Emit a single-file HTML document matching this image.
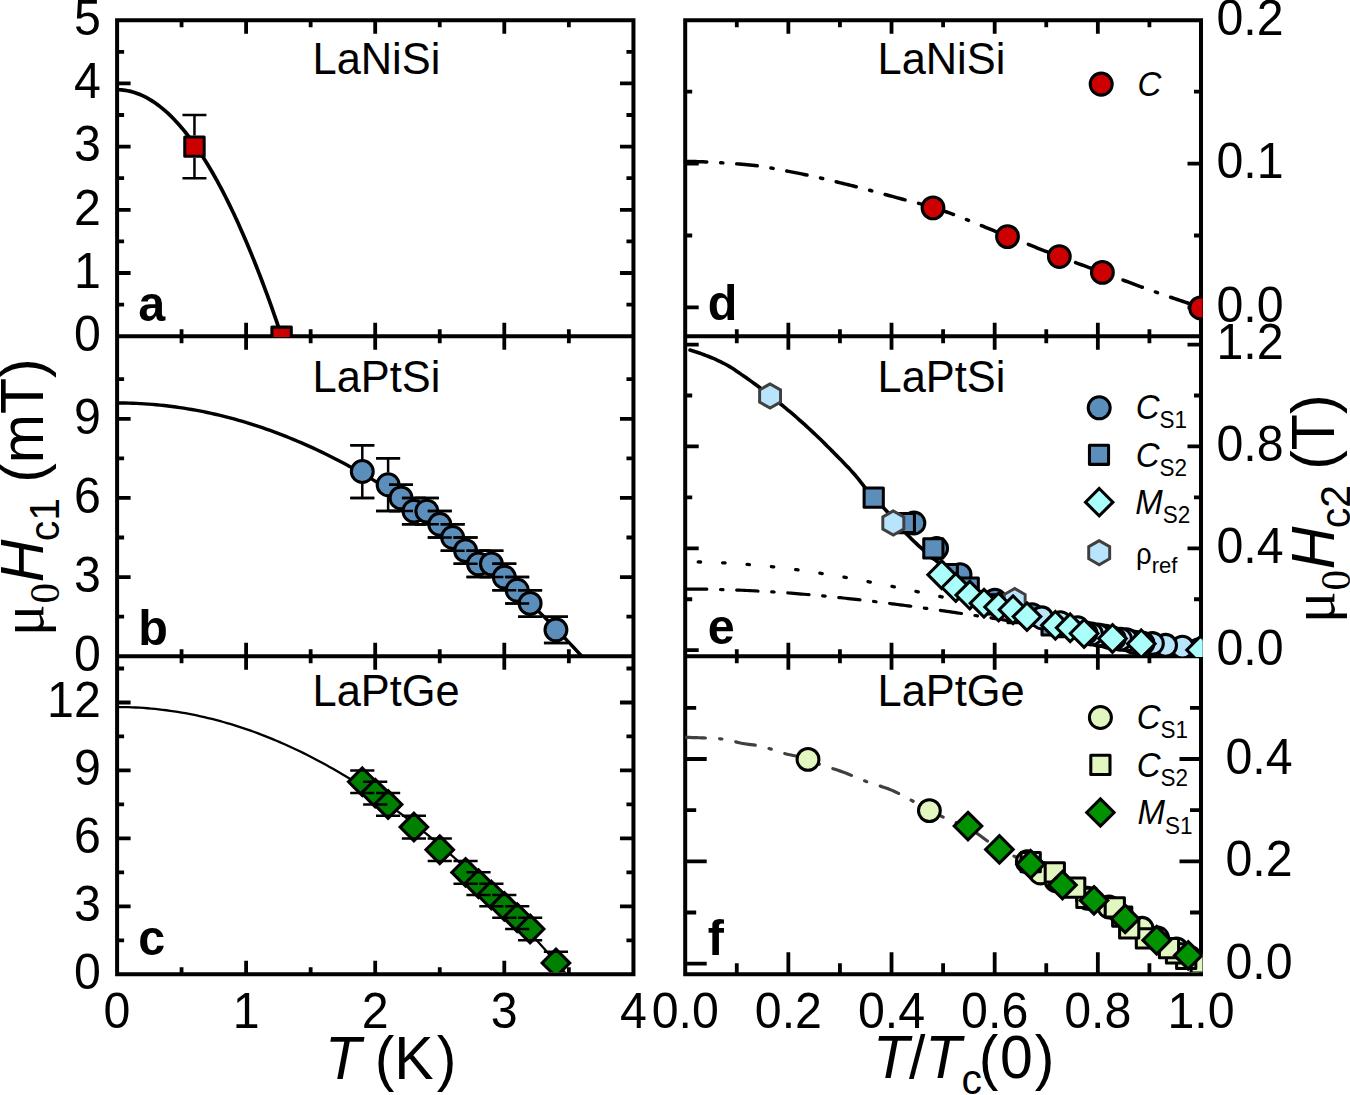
<!DOCTYPE html>
<html lang="en"><head><meta charset="utf-8"><title>Hc1 and Hc2 of LaNiSi, LaPtSi and LaPtGe</title>
<style>html,body{margin:0;padding:0;background:#fff}svg{display:block}text{fill:#000}</style></head><body>
<svg width="1350" height="1095" viewBox="0 0 1350 1095">
<rect x="0" y="0" width="1350" height="1095" fill="#fff"/>
<defs>
<clipPath id="ca"><rect x="117.1" y="20.2" width="517.85" height="316.9"/></clipPath>
<clipPath id="cb"><rect x="117.1" y="336.3" width="517.85" height="320.7"/></clipPath>
<clipPath id="cc"><rect x="117.1" y="656.2" width="517.85" height="316.1"/></clipPath>
<clipPath id="cd"><rect x="685.2" y="20.2" width="517.3" height="316.9"/></clipPath>
<clipPath id="ce"><rect x="685.2" y="336.3" width="517.3" height="320.7"/></clipPath>
<clipPath id="cf"><rect x="685.2" y="656.2" width="517.3" height="316.1"/></clipPath>
</defs>
<path d="M117.1,20.2 H633.45 V974.2 H117.1 Z M117.1,336.3 H633.45 M117.1,656.2 H633.45" fill="none" stroke="#000" stroke-width="4" stroke-linejoin="miter"/>
<path d="M685.2,20.2 H1201 V974.2 H685.2 Z M685.2,336.3 H1201 M685.2,656.2 H1201" fill="none" stroke="#000" stroke-width="4" stroke-linejoin="miter"/>
<path d="M246.1,20.2 V33.7 M375.2,20.2 V33.7 M504.3,20.2 V33.7 M181.55,20.2 V27.2 M310.65,20.2 V27.2 M439.75,20.2 V27.2 M568.85,20.2 V27.2 M246.1,322.8 V349.8 M375.2,322.8 V349.8 M504.3,322.8 V349.8 M181.55,329.3 V343.3 M310.65,329.3 V343.3 M439.75,329.3 V343.3 M568.85,329.3 V343.3 M246.1,642.7 V669.7 M375.2,642.7 V669.7 M504.3,642.7 V669.7 M181.55,649.2 V663.2 M310.65,649.2 V663.2 M439.75,649.2 V663.2 M568.85,649.2 V663.2 M246.1,960.7 V974.2 M375.2,960.7 V974.2 M504.3,960.7 V974.2 M181.55,967.2 V974.2 M310.65,967.2 V974.2 M439.75,967.2 V974.2 M568.85,967.2 V974.2 M788.36,20.2 V33.7 M891.52,20.2 V33.7 M994.68,20.2 V33.7 M1097.84,20.2 V33.7 M736.78,20.2 V27.2 M839.94,20.2 V27.2 M943.1,20.2 V27.2 M1046.26,20.2 V27.2 M1149.42,20.2 V27.2 M788.36,322.8 V349.8 M891.52,322.8 V349.8 M994.68,322.8 V349.8 M1097.84,322.8 V349.8 M736.78,329.3 V343.3 M839.94,329.3 V343.3 M943.1,329.3 V343.3 M1046.26,329.3 V343.3 M1149.42,329.3 V343.3 M788.36,642.7 V669.7 M891.52,642.7 V669.7 M994.68,642.7 V669.7 M1097.84,642.7 V669.7 M736.78,649.2 V663.2 M839.94,649.2 V663.2 M943.1,649.2 V663.2 M1046.26,649.2 V663.2 M1149.42,649.2 V663.2 M788.36,952.2 V974.2 M891.52,952.2 V974.2 M994.68,952.2 V974.2 M1097.84,952.2 V974.2 M736.78,963.2 V974.2 M839.94,963.2 V974.2 M943.1,963.2 V974.2 M1046.26,963.2 V974.2 M1149.42,963.2 V974.2 M117.1,273 H130.6 M117.1,209.8 H130.6 M117.1,146.6 H130.6 M117.1,83.4 H130.6 M117.1,304.6 H124.1 M117.1,241.4 H124.1 M117.1,178.2 H124.1 M117.1,115 H124.1 M117.1,51.8 H124.1 M619.95,273 H633.45 M619.95,209.8 H633.45 M619.95,146.6 H633.45 M619.95,83.4 H633.45 M626.45,304.6 H633.45 M626.45,241.4 H633.45 M626.45,178.2 H633.45 M626.45,115 H633.45 M626.45,51.8 H633.45 M117.1,577.06 H130.6 M117.1,497.92 H130.6 M117.1,418.78 H130.6 M117.1,616.63 H124.1 M117.1,537.49 H124.1 M117.1,458.35 H124.1 M117.1,379.21 H124.1 M619.95,577.06 H633.45 M619.95,497.92 H633.45 M619.95,418.78 H633.45 M626.45,616.63 H633.45 M626.45,537.49 H633.45 M626.45,458.35 H633.45 M626.45,379.21 H633.45 M117.1,906.35 H130.6 M117.1,838.4 H130.6 M117.1,770.45 H130.6 M117.1,702.5 H130.6 M117.1,940.32 H124.1 M117.1,872.38 H124.1 M117.1,804.42 H124.1 M117.1,736.47 H124.1 M117.1,668.52 H124.1 M619.95,906.35 H633.45 M619.95,838.4 H633.45 M619.95,770.45 H633.45 M619.95,702.5 H633.45 M626.45,940.32 H633.45 M626.45,872.38 H633.45 M626.45,804.42 H633.45 M626.45,736.47 H633.45 M626.45,668.52 H633.45 M685.2,307.4 H698.7 M685.2,163.6 H698.7 M685.2,235.5 H692.2 M685.2,91.7 H692.2 M1187.5,307.4 H1201 M1187.5,163.6 H1201 M1194,235.5 H1201 M1194,91.7 H1201 M685.2,650.2 H698.7 M685.2,548.32 H698.7 M685.2,446.44 H698.7 M685.2,344.56 H698.7 M685.2,599.26 H692.2 M685.2,497.38 H692.2 M685.2,395.5 H692.2 M1187.5,650.2 H1201 M1187.5,548.32 H1201 M1187.5,446.44 H1201 M1187.5,344.56 H1201 M1194,599.26 H1201 M1194,497.38 H1201 M1194,395.5 H1201 M685.2,963.7 H706.7 M685.2,861.34 H706.7 M685.2,758.98 H706.7 M685.2,912.52 H696.2 M685.2,810.16 H696.2 M685.2,707.8 H696.2 M1179.5,963.7 H1201 M1179.5,861.34 H1201 M1179.5,758.98 H1201 M1190,912.52 H1201 M1190,810.16 H1201 M1190,707.8 H1201" fill="none" stroke="#000" stroke-width="3.8"/>
<g clip-path="url(#ca)">
<path d="M117,89.72 L119.08,89.76 L121.17,89.88 L123.25,90.08 L125.33,90.35 L127.42,90.71 L129.5,91.14 L131.59,91.66 L133.67,92.25 L135.75,92.92 L137.84,93.67 L139.92,94.5 L142,95.41 L144.09,96.39 L146.17,97.46 L148.25,98.61 L150.34,99.83 L152.42,101.13 L154.5,102.52 L156.59,103.98 L158.67,105.52 L160.76,107.14 L162.84,108.83 L164.92,110.61 L167.01,112.47 L169.09,114.4 L171.17,116.42 L173.26,118.51 L175.34,120.68 L177.42,122.93 L179.51,125.26 L181.59,127.67 L183.67,130.16 L185.76,132.73 L187.84,135.37 L189.93,138.1 L192.01,140.9 L194.09,143.79 L196.18,146.75 L198.26,149.79 L200.34,152.91 L202.43,156.11 L204.51,159.39 L206.59,162.74 L208.68,166.18 L210.76,169.69 L212.84,173.29 L214.93,176.96 L217.01,180.71 L219.1,184.54 L221.18,188.45 L223.26,192.44 L225.35,196.51 L227.43,200.66 L229.51,204.88 L231.6,209.19 L233.68,213.57 L235.76,218.03 L237.85,222.58 L239.93,227.2 L242.01,231.9 L244.1,236.68 L246.18,241.53 L248.27,246.47 L250.35,251.49 L252.43,256.58 L254.52,261.75 L256.6,267.01 L258.68,272.34 L260.77,277.75 L262.85,283.24 L264.93,288.81 L267.02,294.46 L269.1,300.18 L271.18,305.99 L273.27,311.87 L275.35,317.84 L277.44,323.88 L279.52,330 L281.6,336.2" fill="none" stroke="#000" stroke-width="3.7" stroke-linecap="butt" stroke-linejoin="round"/>
<path d="M194.46,115 V135.4 M194.46,157.8 V178.2 M182.46,115 H206.46 M182.46,178.2 H206.46" fill="none" stroke="#000" stroke-width="2.5"/>
<rect x="184.76" y="136.9" width="19.4" height="19.4" fill="#cc0000" stroke="#000" stroke-width="3.05" stroke-linejoin="round"/>
<rect x="271.9" y="327.1" width="19.4" height="19.4" fill="#cc0000" stroke="#000" stroke-width="3.05" stroke-linejoin="round"/>
</g>
<g clip-path="url(#cb)">
<path d="M117,402.95 L120.93,402.97 L124.85,403.02 L128.78,403.11 L132.71,403.24 L136.64,403.4 L140.56,403.6 L144.49,403.84 L148.42,404.11 L152.35,404.42 L156.27,404.76 L160.2,405.14 L164.13,405.56 L168.05,406.01 L171.98,406.5 L175.91,407.02 L179.84,407.58 L183.76,408.18 L187.69,408.81 L191.62,409.48 L195.54,410.19 L199.47,410.93 L203.4,411.7 L207.33,412.52 L211.25,413.37 L215.18,414.25 L219.11,415.18 L223.04,416.13 L226.96,417.13 L230.89,418.16 L234.82,419.23 L238.74,420.33 L242.67,421.47 L246.6,422.64 L250.53,423.86 L254.45,425.1 L258.38,426.39 L262.31,427.71 L266.24,429.06 L270.16,430.46 L274.09,431.88 L278.02,433.35 L281.94,434.85 L285.87,436.39 L289.8,437.96 L293.73,439.57 L297.65,441.22 L301.58,442.9 L305.51,444.61 L309.43,446.37 L313.36,448.16 L317.29,449.99 L321.22,451.85 L325.14,453.75 L329.07,455.68 L333,457.65 L336.93,459.66 L340.85,461.7 L344.78,463.78 L348.71,465.9 L352.63,468.05 L356.56,470.24 L360.49,472.46 L364.42,474.72 L368.34,477.02 L372.27,479.35 L376.2,481.72 L380.13,484.13 L384.05,486.57 L387.98,489.04 L391.91,491.56 L395.83,494.11 L399.76,496.69 L403.69,499.31 L407.62,501.97 L411.54,504.67 L415.47,507.4 L419.4,510.16 L423.33,512.97 L427.25,515.81 L431.18,518.68 L435.11,521.59 L439.03,524.54 L442.96,527.52 L446.89,530.54 L450.82,533.6 L454.74,536.69 L458.67,539.82 L462.6,542.98 L466.52,546.19 L470.45,549.42 L474.38,552.7 L478.31,556 L482.23,559.35 L486.16,562.73 L490.09,566.15 L494.02,569.6 L497.94,573.09 L501.87,576.62 L505.8,580.18 L509.72,583.78 L513.65,587.41 L517.58,591.08 L521.51,594.79 L525.43,598.53 L529.36,602.31 L533.29,606.13 L537.22,609.98 L541.14,613.87 L545.07,617.79 L549,621.75 L552.92,625.75 L556.85,629.78 L560.78,633.85 L564.71,637.96 L568.63,642.1 L572.56,646.27 L576.49,650.49 L580.41,654.74 L584.34,659.02" fill="none" stroke="#000" stroke-width="3.4" stroke-linecap="butt" stroke-linejoin="round"/>
<path d="M362.29,445.16 V459.24 M362.29,483.84 V497.92 M350.29,445.16 H374.29 M350.29,497.92 H374.29" fill="none" stroke="#000" stroke-width="2.5"/>
<circle cx="362.29" cy="471.54" r="10.95" fill="#5b8ebb" stroke="#000" stroke-width="3.05"/>
<path d="M388.11,458.35 V472.43 M388.11,497.03 V511.11 M376.11,458.35 H400.11 M376.11,511.11 H400.11" fill="none" stroke="#000" stroke-width="2.5"/>
<circle cx="388.11" cy="484.73" r="10.95" fill="#5b8ebb" stroke="#000" stroke-width="3.05"/>
<path d="M401.02,484.73 V485.62 M401.02,510.22 V511.11 M389.02,484.73 H413.02 M389.02,511.11 H413.02" fill="none" stroke="#000" stroke-width="2.5"/>
<circle cx="401.02" cy="497.92" r="10.95" fill="#5b8ebb" stroke="#000" stroke-width="3.05"/>
<path d="M413.93,497.92 V498.81 M413.93,523.41 V524.3 M401.93,497.92 H425.93 M401.93,524.3 H425.93" fill="none" stroke="#000" stroke-width="2.5"/>
<circle cx="413.93" cy="511.11" r="10.95" fill="#5b8ebb" stroke="#000" stroke-width="3.05"/>
<path d="M426.84,497.92 V498.81 M426.84,523.41 V524.3 M414.84,497.92 H438.84 M414.84,524.3 H438.84" fill="none" stroke="#000" stroke-width="2.5"/>
<circle cx="426.84" cy="511.11" r="10.95" fill="#5b8ebb" stroke="#000" stroke-width="3.05"/>
<path d="M439.75,511.11 V512 M439.75,536.6 V537.49 M427.75,511.11 H451.75 M427.75,537.49 H451.75" fill="none" stroke="#000" stroke-width="2.5"/>
<circle cx="439.75" cy="524.3" r="10.95" fill="#5b8ebb" stroke="#000" stroke-width="3.05"/>
<path d="M452.66,524.3 V525.19 M452.66,549.79 V550.68 M440.66,524.3 H464.66 M440.66,550.68 H464.66" fill="none" stroke="#000" stroke-width="2.5"/>
<circle cx="452.66" cy="537.49" r="10.95" fill="#5b8ebb" stroke="#000" stroke-width="3.05"/>
<path d="M465.57,537.49 V538.38 M465.57,562.98 V563.87 M453.57,537.49 H477.57 M453.57,563.87 H477.57" fill="none" stroke="#000" stroke-width="2.5"/>
<circle cx="465.57" cy="550.68" r="10.95" fill="#5b8ebb" stroke="#000" stroke-width="3.05"/>
<path d="M478.48,550.68 V551.57 M478.48,576.17 V577.06 M466.48,550.68 H490.48 M466.48,577.06 H490.48" fill="none" stroke="#000" stroke-width="2.5"/>
<circle cx="478.48" cy="563.87" r="10.95" fill="#5b8ebb" stroke="#000" stroke-width="3.05"/>
<path d="M491.39,550.68 V551.57 M491.39,576.17 V577.06 M479.39,550.68 H503.39 M479.39,577.06 H503.39" fill="none" stroke="#000" stroke-width="2.5"/>
<circle cx="491.39" cy="563.87" r="10.95" fill="#5b8ebb" stroke="#000" stroke-width="3.05"/>
<path d="M504.3,563.87 V564.76 M504.3,589.36 V590.25 M492.3,563.87 H516.3 M492.3,590.25 H516.3" fill="none" stroke="#000" stroke-width="2.5"/>
<circle cx="504.3" cy="577.06" r="10.95" fill="#5b8ebb" stroke="#000" stroke-width="3.05"/>
<path d="M517.21,577.06 V577.95 M517.21,602.55 V603.44 M505.21,577.06 H529.21 M505.21,603.44 H529.21" fill="none" stroke="#000" stroke-width="2.5"/>
<circle cx="517.21" cy="590.25" r="10.95" fill="#5b8ebb" stroke="#000" stroke-width="3.05"/>
<path d="M530.12,590.25 V591.14 M530.12,615.74 V616.63 M518.12,590.25 H542.12 M518.12,616.63 H542.12" fill="none" stroke="#000" stroke-width="2.5"/>
<circle cx="530.12" cy="603.44" r="10.95" fill="#5b8ebb" stroke="#000" stroke-width="3.05"/>
<path d="M555.94,616.63 V617.52 M555.94,642.12 V643.01 M543.94,616.63 H567.94 M543.94,643.01 H567.94" fill="none" stroke="#000" stroke-width="2.5"/>
<circle cx="555.94" cy="629.82" r="10.95" fill="#5b8ebb" stroke="#000" stroke-width="3.05"/>
<path d="M350.29,445.16 H374.29 M350.29,497.92 H374.29" fill="none" stroke="#000" stroke-width="2.5"/>
<path d="M376.11,458.35 H400.11 M376.11,511.11 H400.11" fill="none" stroke="#000" stroke-width="2.5"/>
<path d="M389.02,484.73 H413.02 M389.02,511.11 H413.02" fill="none" stroke="#000" stroke-width="2.5"/>
<path d="M401.93,497.92 H425.93 M401.93,524.3 H425.93" fill="none" stroke="#000" stroke-width="2.5"/>
<path d="M414.84,497.92 H438.84 M414.84,524.3 H438.84" fill="none" stroke="#000" stroke-width="2.5"/>
<path d="M427.75,511.11 H451.75 M427.75,537.49 H451.75" fill="none" stroke="#000" stroke-width="2.5"/>
<path d="M440.66,524.3 H464.66 M440.66,550.68 H464.66" fill="none" stroke="#000" stroke-width="2.5"/>
<path d="M453.57,537.49 H477.57 M453.57,563.87 H477.57" fill="none" stroke="#000" stroke-width="2.5"/>
<path d="M466.48,550.68 H490.48 M466.48,577.06 H490.48" fill="none" stroke="#000" stroke-width="2.5"/>
<path d="M479.39,550.68 H503.39 M479.39,577.06 H503.39" fill="none" stroke="#000" stroke-width="2.5"/>
<path d="M492.3,563.87 H516.3 M492.3,590.25 H516.3" fill="none" stroke="#000" stroke-width="2.5"/>
<path d="M505.21,577.06 H529.21 M505.21,603.44 H529.21" fill="none" stroke="#000" stroke-width="2.5"/>
<path d="M518.12,590.25 H542.12 M518.12,616.63 H542.12" fill="none" stroke="#000" stroke-width="2.5"/>
<path d="M543.94,616.63 H567.94 M543.94,643.01 H567.94" fill="none" stroke="#000" stroke-width="2.5"/>
</g>
<g clip-path="url(#cc)">
<path d="M117,707.03 L120.8,707.05 L124.59,707.11 L128.39,707.2 L132.19,707.34 L135.99,707.51 L139.78,707.72 L143.58,707.97 L147.38,708.25 L151.17,708.58 L154.97,708.94 L158.77,709.34 L162.56,709.78 L166.36,710.26 L170.16,710.77 L173.96,711.33 L177.75,711.92 L181.55,712.55 L185.35,713.22 L189.14,713.92 L192.94,714.67 L196.74,715.45 L200.54,716.27 L204.33,717.13 L208.13,718.03 L211.93,718.96 L215.72,719.94 L219.52,720.95 L223.32,722 L227.11,723.09 L230.91,724.21 L234.71,725.38 L238.51,726.58 L242.3,727.82 L246.1,729.1 L249.9,730.42 L253.69,731.77 L257.49,733.17 L261.29,734.6 L265.09,736.07 L268.88,737.58 L272.68,739.12 L276.48,740.71 L280.27,742.33 L284.07,743.99 L287.87,745.69 L291.66,747.43 L295.46,749.2 L299.26,751.02 L303.06,752.87 L306.85,754.76 L310.65,756.69 L314.45,758.65 L318.24,760.66 L322.04,762.7 L325.84,764.78 L329.64,766.9 L333.43,769.06 L337.23,771.25 L341.03,773.49 L344.82,775.76 L348.62,778.07 L352.42,780.42 L356.21,782.8 L360.01,785.23 L363.81,787.69 L367.61,790.19 L371.4,792.73 L375.2,795.31 L379,797.92 L382.79,800.58 L386.59,803.27 L390.39,806 L394.19,808.77 L397.98,811.57 L401.78,814.42 L405.58,817.3 L409.37,820.22 L413.17,823.18 L416.97,826.18 L420.76,829.21 L424.56,832.29 L428.36,835.4 L432.16,838.55 L435.95,841.74 L439.75,844.96 L443.55,848.23 L447.34,851.53 L451.14,854.87 L454.94,858.25 L458.74,861.67 L462.53,865.12 L466.33,868.62 L470.13,872.15 L473.92,875.72 L477.72,879.33 L481.52,882.97 L485.31,886.66 L489.11,890.38 L492.91,894.14 L496.71,897.94 L500.5,901.78 L504.3,905.66 L508.1,909.57 L511.89,913.52 L515.69,917.51 L519.49,921.54 L523.29,925.61 L527.08,929.71 L530.88,933.85 L534.68,938.03 L538.47,942.25 L542.27,946.51 L546.07,950.81 L549.86,955.14 L553.66,959.51 L557.46,963.92 L561.26,968.37 L565.05,972.86 L568.85,977.38" fill="none" stroke="#000" stroke-width="2.3" stroke-linecap="butt" stroke-linejoin="round"/>
<path d="M362.29,767.98 L376.09,781.77 L362.29,795.57 L348.49,781.77Z" fill="#008000" stroke="#000" stroke-width="3.05" stroke-linejoin="miter"/>
<path d="M375.2,779.3 L389,793.1 L375.2,806.9 L361.4,793.1Z" fill="#008000" stroke="#000" stroke-width="3.05" stroke-linejoin="miter"/>
<path d="M388.11,790.62 L401.91,804.42 L388.11,818.22 L374.31,804.42Z" fill="#008000" stroke="#000" stroke-width="3.05" stroke-linejoin="miter"/>
<path d="M413.93,813.27 L427.73,827.07 L413.93,840.87 L400.13,827.07Z" fill="#008000" stroke="#000" stroke-width="3.05" stroke-linejoin="miter"/>
<path d="M439.75,835.92 L453.55,849.72 L439.75,863.52 L425.95,849.72Z" fill="#008000" stroke="#000" stroke-width="3.05" stroke-linejoin="miter"/>
<path d="M465.57,858.58 L479.37,872.38 L465.57,886.17 L451.77,872.38Z" fill="#008000" stroke="#000" stroke-width="3.05" stroke-linejoin="miter"/>
<path d="M478.48,869.9 L492.28,883.7 L478.48,897.5 L464.68,883.7Z" fill="#008000" stroke="#000" stroke-width="3.05" stroke-linejoin="miter"/>
<path d="M491.39,881.23 L505.19,895.02 L491.39,908.82 L477.59,895.02Z" fill="#008000" stroke="#000" stroke-width="3.05" stroke-linejoin="miter"/>
<path d="M504.3,892.55 L518.1,906.35 L504.3,920.15 L490.5,906.35Z" fill="#008000" stroke="#000" stroke-width="3.05" stroke-linejoin="miter"/>
<path d="M517.21,903.88 L531.01,917.67 L517.21,931.47 L503.41,917.67Z" fill="#008000" stroke="#000" stroke-width="3.05" stroke-linejoin="miter"/>
<path d="M530.12,915.2 L543.92,929 L530.12,942.8 L516.32,929Z" fill="#008000" stroke="#000" stroke-width="3.05" stroke-linejoin="miter"/>
<path d="M555.94,949.17 L569.74,962.97 L555.94,976.77 L542.14,962.97Z" fill="#008000" stroke="#000" stroke-width="3.05" stroke-linejoin="miter"/>
<path d="M350.19,770.45 H374.39 M350.19,793.1 H374.39" fill="none" stroke="#000" stroke-width="2.5"/>
<path d="M363.1,781.77 H387.3 M363.1,804.42 H387.3" fill="none" stroke="#000" stroke-width="2.5"/>
<path d="M376.01,793.1 H400.21 M376.01,815.75 H400.21" fill="none" stroke="#000" stroke-width="2.5"/>
<path d="M401.83,815.75 H426.03 M401.83,838.4 H426.03" fill="none" stroke="#000" stroke-width="2.5"/>
<path d="M427.65,838.4 H451.85 M427.65,861.05 H451.85" fill="none" stroke="#000" stroke-width="2.5"/>
<path d="M453.47,861.05 H477.67 M453.47,883.7 H477.67" fill="none" stroke="#000" stroke-width="2.5"/>
<path d="M466.38,872.37 H490.58 M466.38,895.02 H490.58" fill="none" stroke="#000" stroke-width="2.5"/>
<path d="M479.29,883.7 H503.49 M479.29,906.35 H503.49" fill="none" stroke="#000" stroke-width="2.5"/>
<path d="M492.2,895.02 H516.4 M492.2,917.67 H516.4" fill="none" stroke="#000" stroke-width="2.5"/>
<path d="M505.11,906.35 H529.31 M505.11,929 H529.31" fill="none" stroke="#000" stroke-width="2.5"/>
<path d="M518.02,917.67 H542.22 M518.02,940.33 H542.22" fill="none" stroke="#000" stroke-width="2.5"/>
<path d="M543.84,951.65 H568.04 M543.84,974.3 H568.04" fill="none" stroke="#000" stroke-width="2.5"/>
</g>
<g clip-path="url(#cd)">
<path d="M685,161.44 L687.59,161.45 L690.18,161.48 L692.77,161.52 L695.36,161.57 L697.95,161.64 L700.55,161.72 L703.14,161.81 L705.73,161.92 L708.32,162.04 L710.91,162.16 L713.5,162.3 L716.09,162.45 L718.68,162.6 L721.27,162.77 L723.86,162.94 L726.46,163.12 L729.05,163.3 L731.64,163.49 L734.23,163.68 L736.82,163.88 L739.41,164.08 L742,164.29 L744.59,164.49 L747.18,164.7 L749.77,164.95 L752.36,165.22 L754.96,165.53 L757.55,165.87 L760.14,166.23 L762.73,166.62 L765.32,167.03 L767.91,167.47 L770.5,167.92 L773.09,168.38 L775.68,168.86 L778.27,169.35 L780.87,169.85 L783.46,170.35 L786.05,170.86 L788.64,171.37 L791.23,171.88 L793.82,172.39 L796.41,172.89 L799,173.39 L801.59,173.9 L804.18,174.43 L806.77,174.97 L809.37,175.53 L811.96,176.09 L814.55,176.67 L817.14,177.26 L819.73,177.85 L822.32,178.46 L824.91,179.07 L827.5,179.68 L830.09,180.3 L832.68,180.93 L835.28,181.56 L837.87,182.19 L840.46,182.83 L843.05,183.46 L845.64,184.1 L848.23,184.74 L850.82,185.38 L853.41,186.04 L856,186.7 L858.59,187.37 L861.18,188.05 L863.78,188.73 L866.37,189.41 L868.96,190.11 L871.55,190.8 L874.14,191.5 L876.73,192.2 L879.32,192.91 L881.91,193.61 L884.5,194.32 L887.09,195.02 L889.69,195.73 L892.28,196.43 L894.87,197.14 L897.46,197.83 L900.05,198.53 L902.64,199.22 L905.23,199.89 L907.82,200.56 L910.41,201.23 L913,201.89 L915.59,202.56 L918.19,203.24 L920.78,203.92 L923.37,204.63 L925.96,205.35 L928.55,206.09 L931.14,206.86 L933.73,207.66 L936.32,208.48 L938.91,209.33 L941.5,210.2 L944.1,211.1 L946.69,212.01 L949.28,212.95 L951.87,213.9 L954.46,214.87 L957.05,215.85 L959.64,216.85 L962.23,217.86 L964.82,218.89 L967.41,219.92 L970.01,220.96 L972.6,222.01 L975.19,223.06 L977.78,224.12 L980.37,225.18 L982.96,226.24 L985.55,227.31 L988.14,228.37 L990.73,229.44 L993.32,230.49 L995.91,231.55 L998.51,232.59 L1001.1,233.63 L1003.69,234.67 L1006.28,235.69 L1008.87,236.7 L1011.46,237.72 L1014.05,238.74 L1016.64,239.76 L1019.23,240.79 L1021.82,241.82 L1024.42,242.85 L1027.01,243.88 L1029.6,244.92 L1032.19,245.95 L1034.78,246.98 L1037.37,248.01 L1039.96,249.04 L1042.55,250.06 L1045.14,251.08 L1047.73,252.1 L1050.32,253.11 L1052.92,254.12 L1055.51,255.12 L1058.1,256.11 L1060.69,257.09 L1063.28,258.07 L1065.87,259.03 L1068.46,260 L1071.05,260.95 L1073.64,261.9 L1076.23,262.85 L1078.83,263.8 L1081.42,264.74 L1084.01,265.68 L1086.6,266.62 L1089.19,267.56 L1091.78,268.5 L1094.37,269.45 L1096.96,270.39 L1099.55,271.34 L1102.14,272.29 L1104.73,273.25 L1107.33,274.21 L1109.92,275.18 L1112.51,276.15 L1115.1,277.12 L1117.69,278.09 L1120.28,279.07 L1122.87,280.04 L1125.46,281.01 L1128.05,281.98 L1130.64,282.95 L1133.24,283.92 L1135.83,284.88 L1138.42,285.83 L1141.01,286.78 L1143.6,287.73 L1146.19,288.67 L1148.78,289.6 L1151.37,290.52 L1153.96,291.44 L1156.55,292.35 L1159.14,293.26 L1161.74,294.17 L1164.33,295.07 L1166.92,295.97 L1169.51,296.86 L1172.1,297.75 L1174.69,298.64 L1177.28,299.53 L1179.87,300.41 L1182.46,301.28 L1185.05,302.15 L1187.65,303.02 L1190.24,303.89 L1192.83,304.75 L1195.42,305.6 L1198.01,306.45 L1200.6,307.3" fill="none" stroke="#000" stroke-width="3.5" stroke-linecap="round" stroke-linejoin="round" stroke-dasharray="20.6 13.9 2.2 13.9" stroke-dashoffset="-1.2"/>
<circle cx="933" cy="207.86" r="10.9" fill="#cc0000" stroke="#000" stroke-width="3.05"/>
<circle cx="1007.51" cy="236.6" r="10.9" fill="#cc0000" stroke="#000" stroke-width="3.05"/>
<circle cx="1059.33" cy="256.57" r="10.9" fill="#cc0000" stroke="#000" stroke-width="3.05"/>
<circle cx="1102.38" cy="272.38" r="10.9" fill="#cc0000" stroke="#000" stroke-width="3.05"/>
<circle cx="1200.6" cy="307.9" r="10.9" fill="#cc0000" stroke="#000" stroke-width="3.05"/>
</g>
<circle cx="1101.2" cy="84.1" r="11" fill="#cc0000" stroke="#000" stroke-width="3.05"/>
<g clip-path="url(#ce)">
<path d="M685,561.86 L687.59,561.87 L690.18,561.88 L692.77,561.9 L695.36,561.93 L697.95,561.97 L700.55,562.02 L703.14,562.08 L705.73,562.15 L708.32,562.22 L710.91,562.31 L713.5,562.4 L716.09,562.5 L718.68,562.61 L721.27,562.73 L723.86,562.86 L726.46,562.99 L729.05,563.14 L731.64,563.29 L734.23,563.45 L736.82,563.62 L739.41,563.8 L742,563.99 L744.59,564.19 L747.18,564.39 L749.77,564.6 L752.36,564.82 L754.96,565.05 L757.55,565.28 L760.14,565.53 L762.73,565.78 L765.32,566.04 L767.91,566.31 L770.5,566.58 L773.09,566.86 L775.68,567.15 L778.27,567.45 L780.87,567.75 L783.46,568.06 L786.05,568.38 L788.64,568.71 L791.23,569.04 L793.82,569.38 L796.41,569.73 L799,570.08 L801.59,570.44 L804.18,570.8 L806.77,571.18 L809.37,571.55 L811.96,571.94 L814.55,572.33 L817.14,572.73 L819.73,573.13 L822.32,573.54 L824.91,573.95 L827.5,574.37 L830.09,574.8 L832.68,575.23 L835.28,575.66 L837.87,576.1 L840.46,576.55 L843.05,577 L845.64,577.46 L848.23,577.92 L850.82,578.39 L853.41,578.86 L856,579.33 L858.59,579.81 L861.18,580.29 L863.78,580.78 L866.37,581.27 L868.96,581.77 L871.55,582.27 L874.14,582.77 L876.73,583.28 L879.32,583.79 L881.91,584.3 L884.5,584.82 L887.09,585.34 L889.69,585.86 L892.28,586.39 L894.87,586.92 L897.46,587.45 L900.05,587.98 L902.64,588.52 L905.23,589.06 L907.82,589.6 L910.41,590.15 L913,590.69 L915.59,591.24 L918.19,591.8 L920.78,592.35 L923.37,592.9 L925.96,593.46 L928.55,594.02 L931.14,594.58 L933.73,595.14 L936.32,595.7 L938.91,596.27 L941.5,596.83 L944.1,597.4 L946.69,597.97 L949.28,598.54 L951.87,599.11 L954.46,599.68 L957.05,600.25 L959.64,600.82 L962.23,601.4 L964.82,601.97 L967.41,602.54 L970.01,603.12 L972.6,603.69 L975.19,604.27 L977.78,604.84 L980.37,605.42 L982.96,605.99 L985.55,606.57 L988.14,607.14 L990.73,607.72 L993.32,608.29 L995.91,608.87 L998.51,609.44 L1001.1,610.02 L1003.69,610.59 L1006.28,611.16 L1008.87,611.74 L1011.46,612.31 L1014.05,612.88 L1016.64,613.45 L1019.23,614.02 L1021.82,614.59 L1024.42,615.16 L1027.01,615.72 L1029.6,616.29 L1032.19,616.85 L1034.78,617.42 L1037.37,617.98 L1039.96,618.54 L1042.55,619.1 L1045.14,619.66 L1047.73,620.22 L1050.32,620.78 L1052.92,621.34 L1055.51,621.89 L1058.1,622.44 L1060.69,622.99 L1063.28,623.54 L1065.87,624.09 L1068.46,624.64 L1071.05,625.19 L1073.64,625.73 L1076.23,626.27 L1078.83,626.81 L1081.42,627.35 L1084.01,627.89 L1086.6,628.42 L1089.19,628.96 L1091.78,629.49 L1094.37,630.02 L1096.96,630.55 L1099.55,631.07 L1102.14,631.6 L1104.73,632.12 L1107.33,632.64 L1109.92,633.16 L1112.51,633.68 L1115.1,634.19 L1117.69,634.7 L1120.28,635.22 L1122.87,635.72 L1125.46,636.23 L1128.05,636.74 L1130.64,637.24 L1133.24,637.74 L1135.83,638.24 L1138.42,638.73 L1141.01,639.23 L1143.6,639.72 L1146.19,640.21 L1148.78,640.7 L1151.37,641.19 L1153.96,641.67 L1156.55,642.15 L1159.14,642.63 L1161.74,643.11 L1164.33,643.58 L1166.92,644.05 L1169.51,644.53 L1172.1,644.99 L1174.69,645.46 L1177.28,645.92 L1179.87,646.39 L1182.46,646.85 L1185.05,647.3 L1187.65,647.76 L1190.24,648.21 L1192.83,648.66 L1195.42,649.11 L1198.01,649.56 L1200.6,650" fill="none" stroke="#000" stroke-width="3.3" stroke-linecap="round" stroke-linejoin="round" stroke-dasharray="2.4 22.05" stroke-dashoffset="-13.2"/>
<path d="M685,589.04 L687.59,589.04 L690.18,589.05 L692.77,589.06 L695.36,589.08 L697.95,589.1 L700.55,589.13 L703.14,589.16 L705.73,589.2 L708.32,589.25 L710.91,589.29 L713.5,589.35 L716.09,589.41 L718.68,589.47 L721.27,589.54 L723.86,589.61 L726.46,589.69 L729.05,589.77 L731.64,589.86 L734.23,589.96 L736.82,590.05 L739.41,590.16 L742,590.27 L744.59,590.38 L747.18,590.5 L749.77,590.62 L752.36,590.75 L754.96,590.88 L757.55,591.02 L760.14,591.16 L762.73,591.3 L765.32,591.45 L767.91,591.61 L770.5,591.77 L773.09,591.93 L775.68,592.1 L778.27,592.28 L780.87,592.46 L783.46,592.64 L786.05,592.83 L788.64,593.02 L791.23,593.21 L793.82,593.41 L796.41,593.62 L799,593.83 L801.59,594.04 L804.18,594.26 L806.77,594.48 L809.37,594.7 L811.96,594.93 L814.55,595.17 L817.14,595.4 L819.73,595.64 L822.32,595.89 L824.91,596.14 L827.5,596.39 L830.09,596.65 L832.68,596.91 L835.28,597.17 L837.87,597.44 L840.46,597.71 L843.05,597.98 L845.64,598.26 L848.23,598.54 L850.82,598.83 L853.41,599.12 L856,599.41 L858.59,599.7 L861.18,600 L863.78,600.3 L866.37,600.6 L868.96,600.91 L871.55,601.22 L874.14,601.53 L876.73,601.85 L879.32,602.17 L881.91,602.49 L884.5,602.82 L887.09,603.14 L889.69,603.47 L892.28,603.8 L894.87,604.14 L897.46,604.48 L900.05,604.82 L902.64,605.16 L905.23,605.5 L907.82,605.85 L910.41,606.2 L913,606.55 L915.59,606.91 L918.19,607.26 L920.78,607.62 L923.37,607.98 L925.96,608.34 L928.55,608.7 L931.14,609.07 L933.73,609.44 L936.32,609.81 L938.91,610.18 L941.5,610.55 L944.1,610.93 L946.69,611.3 L949.28,611.68 L951.87,612.06 L954.46,612.44 L957.05,612.82 L959.64,613.21 L962.23,613.59 L964.82,613.98 L967.41,614.36 L970.01,614.75 L972.6,615.14 L975.19,615.53 L977.78,615.93 L980.37,616.32 L982.96,616.71 L985.55,617.11 L988.14,617.5 L990.73,617.9 L993.32,618.3 L995.91,618.7 L998.51,619.1 L1001.1,619.5 L1003.69,619.9 L1006.28,620.3 L1008.87,620.7 L1011.46,621.1 L1014.05,621.5 L1016.64,621.91 L1019.23,622.31 L1021.82,622.72 L1024.42,623.12 L1027.01,623.53 L1029.6,623.93 L1032.19,624.34 L1034.78,624.74 L1037.37,625.15 L1039.96,625.56 L1042.55,625.96 L1045.14,626.37 L1047.73,626.78 L1050.32,627.18 L1052.92,627.59 L1055.51,628 L1058.1,628.4 L1060.69,628.81 L1063.28,629.21 L1065.87,629.62 L1068.46,630.03 L1071.05,630.43 L1073.64,630.84 L1076.23,631.24 L1078.83,631.65 L1081.42,632.05 L1084.01,632.46 L1086.6,632.86 L1089.19,633.27 L1091.78,633.67 L1094.37,634.07 L1096.96,634.48 L1099.55,634.88 L1102.14,635.28 L1104.73,635.68 L1107.33,636.08 L1109.92,636.48 L1112.51,636.88 L1115.1,637.28 L1117.69,637.68 L1120.28,638.08 L1122.87,638.47 L1125.46,638.87 L1128.05,639.27 L1130.64,639.66 L1133.24,640.06 L1135.83,640.45 L1138.42,640.84 L1141.01,641.23 L1143.6,641.63 L1146.19,642.02 L1148.78,642.41 L1151.37,642.79 L1153.96,643.18 L1156.55,643.57 L1159.14,643.96 L1161.74,644.34 L1164.33,644.72 L1166.92,645.11 L1169.51,645.49 L1172.1,645.87 L1174.69,646.25 L1177.28,646.63 L1179.87,647.01 L1182.46,647.39 L1185.05,647.76 L1187.65,648.14 L1190.24,648.51 L1192.83,648.89 L1195.42,649.26 L1198.01,649.63 L1200.6,650" fill="none" stroke="#000" stroke-width="3.2" stroke-linecap="round" stroke-linejoin="round" stroke-dasharray="21.3 13.7 2.5 13.7" stroke-dashoffset="-0.5"/>
<path d="M690,350.03 L692.33,350.73 L694.66,351.46 L697,352.23 L699.33,353.03 L701.66,353.86 L703.99,354.72 L706.32,355.61 L708.65,356.53 L710.98,357.48 L713.32,358.45 L715.65,359.47 L717.98,360.53 L720.31,361.63 L722.64,362.78 L724.97,363.98 L727.31,365.26 L729.64,366.63 L731.97,368.08 L734.3,369.59 L736.63,371.15 L738.96,372.75 L741.29,374.37 L743.63,375.99 L745.96,377.6 L748.29,379.24 L750.62,380.9 L752.95,382.59 L755.28,384.31 L757.61,386.04 L759.95,387.8 L762.28,389.57 L764.61,391.36 L766.94,393.16 L769.27,394.97 L771.6,396.79 L773.94,398.63 L776.27,400.49 L778.6,402.36 L780.93,404.25 L783.26,406.16 L785.59,408.08 L787.92,410.03 L790.26,411.99 L792.59,413.97 L794.92,415.97 L797.25,417.99 L799.58,420.04 L801.91,422.11 L804.24,424.21 L806.58,426.33 L808.91,428.47 L811.24,430.63 L813.57,432.82 L815.9,435.02 L818.23,437.25 L820.57,439.51 L822.9,441.8 L825.23,444.1 L827.56,446.43 L829.89,448.77 L832.22,451.13 L834.55,453.49 L836.89,455.87 L839.22,458.23 L841.55,460.6 L843.88,462.99 L846.21,465.41 L848.54,467.86 L850.87,470.36 L853.21,472.92 L855.54,475.56 L857.87,478.35 L860.2,481.27 L862.53,484.29 L864.86,487.33 L867.2,490.34 L869.53,493.28 L871.86,496.08 L874.19,498.68 L876.52,501.08 L878.85,503.33 L881.18,505.55 L883.52,507.81 L885.85,510.21 L888.18,512.75 L890.51,515.4 L892.84,518.11 L895.17,520.86 L897.5,523.62 L899.84,526.37 L902.17,529.06 L904.5,531.68 L906.83,534.19 L909.16,536.58 L911.49,538.91 L913.83,541.18 L916.16,543.39 L918.49,545.56 L920.82,547.69 L923.15,549.78 L925.48,551.82 L927.81,553.83 L930.15,555.8 L932.48,557.75 L934.81,559.67 L937.14,561.58 L939.47,563.48 L941.8,565.37 L944.13,567.27 L946.47,569.19 L948.8,571.12 L951.13,573.05 L953.46,574.97 L955.79,576.87 L958.12,578.74 L960.46,580.57 L962.79,582.35 L965.12,584.07 L967.45,585.73 L969.78,587.31 L972.11,588.87 L974.44,590.4 L976.78,591.9 L979.11,593.37 L981.44,594.8 L983.77,596.19 L986.1,597.52 L988.43,598.79 L990.76,600.01 L993.1,601.15 L995.43,602.22 L997.76,603.23 L1000.09,604.19 L1002.42,605.11 L1004.75,605.99 L1007.09,606.83 L1009.42,607.65 L1011.75,608.46 L1014.08,609.26 L1016.41,610.05 L1018.74,610.85 L1021.07,611.65 L1023.41,612.48 L1025.74,613.33 L1028.07,614.21 L1030.4,615.09 L1032.73,615.99 L1035.06,616.89 L1037.39,617.8 L1039.73,618.7 L1042.06,619.59 L1044.39,620.47 L1046.72,621.34 L1049.05,622.18 L1051.38,623 L1053.72,623.79 L1056.05,624.54 L1058.38,625.27 L1060.71,625.98 L1063.04,626.67 L1065.37,627.34 L1067.7,628 L1070.04,628.64 L1072.37,629.27 L1074.7,629.88 L1077.03,630.48 L1079.36,631.06 L1081.69,631.63 L1084.02,632.19 L1086.36,632.74 L1088.69,633.27 L1091.02,633.79 L1093.35,634.3 L1095.68,634.8 L1098.01,635.29 L1100.35,635.77 L1102.68,636.25 L1105.01,636.72 L1107.34,637.19 L1109.67,637.66 L1112,638.13 L1114.33,638.59 L1116.67,639.06 L1119,639.53 L1121.33,640 L1123.66,640.47 L1125.99,640.93 L1128.32,641.38 L1130.65,641.82 L1132.99,642.25 L1135.32,642.66 L1137.65,643.06 L1139.98,643.44 L1142.31,643.8 L1144.64,644.16 L1146.98,644.5 L1149.31,644.84 L1151.64,645.17 L1153.97,645.5 L1156.3,645.81 L1158.63,646.12 L1160.96,646.42 L1163.3,646.71 L1165.63,646.98 L1167.96,647.25 L1170.29,647.51 L1172.62,647.75 L1174.95,647.98 L1177.28,648.2 L1179.62,648.42 L1181.95,648.63 L1184.28,648.83 L1186.61,649.02 L1188.94,649.21 L1191.27,649.39 L1193.61,649.55 L1195.94,649.71 L1198.27,649.86 L1200.6,650" fill="none" stroke="#000" stroke-width="3.6" stroke-linecap="round" stroke-linejoin="round"/>
<circle cx="1061.39" cy="625.87" r="10.9" fill="#5b8ebb" stroke="#000" stroke-width="3.05"/>
<circle cx="1032" cy="614.69" r="10.9" fill="#5b8ebb" stroke="#000" stroke-width="3.05"/>
<circle cx="994.88" cy="600.09" r="10.9" fill="#5b8ebb" stroke="#000" stroke-width="3.05"/>
<circle cx="960.07" cy="574.56" r="10.9" fill="#5b8ebb" stroke="#000" stroke-width="3.05"/>
<circle cx="936.61" cy="548.4" r="10.9" fill="#5b8ebb" stroke="#000" stroke-width="3.05"/>
<circle cx="913.93" cy="523" r="10.9" fill="#5b8ebb" stroke="#000" stroke-width="3.05"/>
<rect x="1041.99" y="615.76" width="19.2" height="19.2" fill="#5b8ebb" stroke="#000" stroke-width="3.05" stroke-linejoin="round"/>
<rect x="1007.96" y="603.57" width="19.2" height="19.2" fill="#5b8ebb" stroke="#000" stroke-width="3.05" stroke-linejoin="round"/>
<rect x="984.76" y="594.68" width="19.2" height="19.2" fill="#5b8ebb" stroke="#000" stroke-width="3.05" stroke-linejoin="round"/>
<rect x="959.13" y="577.92" width="19.2" height="19.2" fill="#5b8ebb" stroke="#000" stroke-width="3.05" stroke-linejoin="round"/>
<rect x="938.15" y="564.45" width="19.2" height="19.2" fill="#5b8ebb" stroke="#000" stroke-width="3.05" stroke-linejoin="round"/>
<rect x="923.76" y="538.8" width="19.2" height="19.2" fill="#5b8ebb" stroke="#000" stroke-width="3.05" stroke-linejoin="round"/>
<rect x="895.25" y="513.4" width="19.2" height="19.2" fill="#5b8ebb" stroke="#000" stroke-width="3.05" stroke-linejoin="round"/>
<rect x="864.11" y="488" width="19.2" height="19.2" fill="#5b8ebb" stroke="#000" stroke-width="3.05" stroke-linejoin="round"/>
<polygon points="770.07,383.9 759.6,389.95 759.6,402.05 770.07,408.1 780.55,402.05 780.55,389.95" fill="#b8e4fc" stroke="#403e3e" stroke-width="2.95" stroke-linejoin="miter"/>
<polygon points="893.3,510.9 882.82,516.95 882.82,529.05 893.3,535.1 903.78,529.05 903.78,516.95" fill="#b8e4fc" stroke="#403e3e" stroke-width="2.95" stroke-linejoin="miter"/>
<polygon points="1014.67,588.5 1004.2,594.55 1004.2,606.65 1014.67,612.7 1025.15,606.65 1025.15,594.55" fill="#b8e4fc" stroke="#403e3e" stroke-width="2.95" stroke-linejoin="miter"/>
<circle cx="1199" cy="649.6" r="10.9" fill="#b8e4fc" stroke="#000" stroke-width="3.05"/>
<circle cx="1182.4" cy="647.1" r="10.9" fill="#b8e4fc" stroke="#000" stroke-width="3.05"/>
<circle cx="1165.6" cy="645.3" r="10.9" fill="#b8e4fc" stroke="#000" stroke-width="3.05"/>
<circle cx="1152.4" cy="643.5" r="10.9" fill="#b8e4fc" stroke="#000" stroke-width="3.05"/>
<circle cx="1143" cy="643.2" r="10.9" fill="#b8e4fc" stroke="#000" stroke-width="3.05"/>
<circle cx="1137.5" cy="642.7" r="10.9" fill="#b8e4fc" stroke="#000" stroke-width="3.05"/>
<circle cx="1133" cy="642" r="10.9" fill="#b8e4fc" stroke="#000" stroke-width="3.05"/>
<circle cx="1126.4" cy="639.8" r="10.9" fill="#b8e4fc" stroke="#000" stroke-width="3.05"/>
<circle cx="1120.5" cy="639.2" r="10.9" fill="#b8e4fc" stroke="#000" stroke-width="3.05"/>
<circle cx="1114.2" cy="638.5" r="10.9" fill="#b8e4fc" stroke="#000" stroke-width="3.05"/>
<circle cx="1109.5" cy="637.4" r="10.9" fill="#b8e4fc" stroke="#000" stroke-width="3.05"/>
<circle cx="1105.5" cy="636.3" r="10.9" fill="#b8e4fc" stroke="#000" stroke-width="3.05"/>
<circle cx="1101.5" cy="635.6" r="10.9" fill="#b8e4fc" stroke="#000" stroke-width="3.05"/>
<circle cx="1098" cy="635" r="10.9" fill="#b8e4fc" stroke="#000" stroke-width="3.05"/>
<circle cx="1091.5" cy="634" r="10.9" fill="#b8e4fc" stroke="#000" stroke-width="3.05"/>
<circle cx="1085.9" cy="633" r="10.9" fill="#b8e4fc" stroke="#000" stroke-width="3.05"/>
<circle cx="1077.6" cy="627.7" r="10.9" fill="#b8e4fc" stroke="#000" stroke-width="3.05"/>
<circle cx="1060.3" cy="622.7" r="10.9" fill="#b8e4fc" stroke="#000" stroke-width="3.05"/>
<circle cx="1041.8" cy="617.8" r="10.9" fill="#b8e4fc" stroke="#000" stroke-width="3.05"/>
<path d="M941.7,560.9 L955.5,574.7 L941.7,588.5 L927.9,574.7Z" fill="#aafffa" stroke="#000" stroke-width="3.05" stroke-linejoin="miter"/>
<path d="M955.8,573.7 L969.6,587.5 L955.8,601.3 L942,587.5Z" fill="#aafffa" stroke="#000" stroke-width="3.05" stroke-linejoin="miter"/>
<path d="M969.8,581.3 L983.6,595.1 L969.8,608.9 L956,595.1Z" fill="#aafffa" stroke="#000" stroke-width="3.05" stroke-linejoin="miter"/>
<path d="M984,589.4 L997.8,603.2 L984,617 L970.2,603.2Z" fill="#aafffa" stroke="#000" stroke-width="3.05" stroke-linejoin="miter"/>
<path d="M998.6,593.2 L1012.4,607 L998.6,620.8 L984.8,607Z" fill="#aafffa" stroke="#000" stroke-width="3.05" stroke-linejoin="miter"/>
<path d="M1013,595.9 L1026.8,609.7 L1013,623.5 L999.2,609.7Z" fill="#aafffa" stroke="#000" stroke-width="3.05" stroke-linejoin="miter"/>
<path d="M1027,602.8 L1040.8,616.6 L1027,630.4 L1013.2,616.6Z" fill="#aafffa" stroke="#000" stroke-width="3.05" stroke-linejoin="miter"/>
<path d="M1055.4,611.5 L1069.2,625.3 L1055.4,639.1 L1041.6,625.3Z" fill="#aafffa" stroke="#000" stroke-width="3.05" stroke-linejoin="miter"/>
<path d="M1070.2,614 L1084,627.8 L1070.2,641.6 L1056.4,627.8Z" fill="#aafffa" stroke="#000" stroke-width="3.05" stroke-linejoin="miter"/>
<path d="M1084.1,619.7 L1097.9,633.5 L1084.1,647.3 L1070.3,633.5Z" fill="#aafffa" stroke="#000" stroke-width="3.05" stroke-linejoin="miter"/>
<path d="M1112.5,624.7 L1126.3,638.5 L1112.5,652.3 L1098.7,638.5Z" fill="#aafffa" stroke="#000" stroke-width="3.05" stroke-linejoin="miter"/>
<path d="M1141.3,630 L1155.1,643.8 L1141.3,657.6 L1127.5,643.8Z" fill="#aafffa" stroke="#000" stroke-width="3.05" stroke-linejoin="miter"/>
<path d="M1200.6,636.2 L1214.4,650 L1200.6,663.8 L1186.8,650Z" fill="#aafffa" stroke="#000" stroke-width="3.05" stroke-linejoin="miter"/>
</g>
<circle cx="1099.2" cy="407.8" r="11" fill="#5b8ebb" stroke="#000" stroke-width="3.05"/>
<rect x="1089.45" y="445.25" width="19.1" height="19.1" fill="#5b8ebb" stroke="#000" stroke-width="3.05" stroke-linejoin="round"/>
<path d="M1099.2,488.5 L1112.9,502.2 L1099.2,515.9 L1085.5,502.2Z" fill="#aafffa" stroke="#000" stroke-width="3.05" stroke-linejoin="miter"/>
<polygon points="1099.2,540.6 1088.72,546.65 1088.72,558.75 1099.2,564.8 1109.68,558.75 1109.68,546.65" fill="#b8e4fc" stroke="#403e3e" stroke-width="2.95" stroke-linejoin="miter"/>
<g clip-path="url(#cf)">
<path d="M685,737.37 L687.35,737.41 L689.71,737.47 L692.06,737.53 L694.42,737.6 L696.77,737.67 L699.13,737.76 L701.48,737.84 L703.83,737.94 L706.19,738.03 L708.54,738.13 L710.9,738.24 L713.25,738.36 L715.61,738.49 L717.96,738.65 L720.32,738.83 L722.67,739.07 L725.02,739.42 L727.38,739.88 L729.73,740.41 L732.09,740.98 L734.44,741.58 L736.8,742.17 L739.15,742.72 L741.5,743.22 L743.86,743.63 L746.21,743.98 L748.57,744.29 L750.92,744.59 L753.28,744.9 L755.63,745.26 L757.98,745.68 L760.34,746.19 L762.69,746.76 L765.05,747.39 L767.4,748.04 L769.76,748.72 L772.11,749.39 L774.46,750.14 L776.82,750.93 L779.17,751.75 L781.53,752.55 L783.88,753.3 L786.24,753.98 L788.59,754.55 L790.95,755.02 L793.3,755.46 L795.65,755.95 L798.01,756.54 L800.36,757.23 L802.72,757.99 L805.07,758.83 L807.43,759.71 L809.78,760.61 L812.13,761.54 L814.49,762.46 L816.84,763.36 L819.2,764.24 L821.55,765.06 L823.91,765.84 L826.26,766.6 L828.61,767.34 L830.97,768.08 L833.32,768.82 L835.68,769.57 L838.03,770.33 L840.39,771.12 L842.74,771.95 L845.09,772.81 L847.45,773.73 L849.8,774.68 L852.16,775.66 L854.51,776.65 L856.87,777.65 L859.22,778.64 L861.58,779.62 L863.93,780.56 L866.28,781.47 L868.64,782.33 L870.99,783.14 L873.35,783.91 L875.7,784.66 L878.06,785.39 L880.41,786.14 L882.76,786.9 L885.12,787.69 L887.47,788.52 L889.83,789.42 L892.18,790.38 L894.54,791.44 L896.89,792.57 L899.24,793.77 L901.6,795.02 L903.95,796.29 L906.31,797.58 L908.66,798.86 L911.02,800.13 L913.37,801.37 L915.73,802.61 L918.08,803.86 L920.43,805.13 L922.79,806.41 L925.14,807.7 L927.5,808.98 L929.85,810.25 L932.21,811.52 L934.56,812.77 L936.91,814 L939.27,815.21 L941.62,816.39 L943.98,817.53 L946.33,818.63 L948.69,819.66 L951.04,820.64 L953.39,821.58 L955.75,822.51 L958.1,823.45 L960.46,824.41 L962.81,825.41 L965.17,826.47 L967.52,827.61 L969.87,828.85 L972.23,830.23 L974.58,831.72 L976.94,833.32 L979.29,834.99 L981.65,836.71 L984,838.46 L986.36,840.22 L988.71,841.96 L991.06,843.66 L993.42,845.3 L995.77,846.85 L998.13,848.3 L1000.48,849.63 L1002.84,850.88 L1005.19,852.07 L1007.54,853.21 L1009.9,854.32 L1012.25,855.39 L1014.61,856.45 L1016.96,857.51 L1019.32,858.57 L1021.67,859.65 L1024.02,860.77 L1026.38,861.93 L1028.73,863.15 L1031.09,864.43 L1033.44,865.79 L1035.8,867.24 L1038.15,868.75 L1040.51,870.32 L1042.86,871.93 L1045.21,873.56 L1047.57,875.2 L1049.92,876.83 L1052.28,878.45 L1054.63,880.03 L1056.99,881.56 L1059.34,883.03 L1061.69,884.43 L1064.05,885.76 L1066.4,887.04 L1068.76,888.28 L1071.11,889.49 L1073.47,890.68 L1075.82,891.85 L1078.17,893.02 L1080.53,894.18 L1082.88,895.36 L1085.24,896.55 L1087.59,897.76 L1089.95,899.01 L1092.3,900.3 L1094.65,901.63 L1097.01,902.98 L1099.36,904.36 L1101.72,905.76 L1104.07,907.18 L1106.43,908.61 L1108.78,910.06 L1111.14,911.5 L1113.49,912.96 L1115.84,914.41 L1118.2,915.85 L1120.55,917.29 L1122.91,918.72 L1125.26,920.14 L1127.62,921.59 L1129.97,923.05 L1132.32,924.52 L1134.68,925.99 L1137.03,927.47 L1139.39,928.93 L1141.74,930.39 L1144.1,931.83 L1146.45,933.25 L1148.8,934.64 L1151.16,936 L1153.51,937.33 L1155.87,938.61 L1158.22,939.84 L1160.58,940.99 L1162.93,942.1 L1165.28,943.16 L1167.64,944.19 L1169.99,945.2 L1172.35,946.22 L1174.7,947.25 L1177.06,948.31 L1179.41,949.41 L1181.77,950.56 L1184.12,951.79 L1186.47,953.09 L1188.83,954.5 L1191.18,956.06 L1193.54,957.75 L1195.89,959.54 L1198.25,961.4 L1200.6,963.3" fill="none" stroke="#404040" stroke-width="3.2" stroke-linecap="round" stroke-linejoin="round" stroke-dasharray="19.8 14.2 2.3 14.2" stroke-dashoffset="-0.6"/>
<circle cx="1190" cy="957.5" r="10.9" fill="#e2f6c0" stroke="#000" stroke-width="3.05"/>
<circle cx="1176.5" cy="948.9" r="10.9" fill="#e2f6c0" stroke="#000" stroke-width="3.05"/>
<circle cx="1157.6" cy="938" r="10.9" fill="#e2f6c0" stroke="#000" stroke-width="3.05"/>
<circle cx="1142" cy="928.3" r="10.9" fill="#e2f6c0" stroke="#000" stroke-width="3.05"/>
<circle cx="1109" cy="907" r="10.9" fill="#e2f6c0" stroke="#000" stroke-width="3.05"/>
<circle cx="1087.4" cy="898.3" r="10.9" fill="#e2f6c0" stroke="#000" stroke-width="3.05"/>
<circle cx="1056" cy="880.8" r="10.9" fill="#e2f6c0" stroke="#000" stroke-width="3.05"/>
<circle cx="1040.5" cy="873" r="10.9" fill="#e2f6c0" stroke="#000" stroke-width="3.05"/>
<circle cx="1027.3" cy="861.7" r="10.9" fill="#e2f6c0" stroke="#000" stroke-width="3.05"/>
<circle cx="929.4" cy="810.6" r="10.9" fill="#e2f6c0" stroke="#000" stroke-width="3.05"/>
<circle cx="808" cy="759.4" r="10.9" fill="#e2f6c0" stroke="#000" stroke-width="3.05"/>
<rect x="1191.1" y="953.7" width="19.2" height="19.2" fill="#e2f6c0" stroke="#000" stroke-width="3.05" stroke-linejoin="round"/>
<rect x="1176.6" y="949.2" width="19.2" height="19.2" fill="#e2f6c0" stroke="#000" stroke-width="3.05" stroke-linejoin="round"/>
<rect x="1166.4" y="943.8" width="19.2" height="19.2" fill="#e2f6c0" stroke="#000" stroke-width="3.05" stroke-linejoin="round"/>
<rect x="1159.4" y="938.5" width="19.2" height="19.2" fill="#e2f6c0" stroke="#000" stroke-width="3.05" stroke-linejoin="round"/>
<rect x="1136.3" y="928.8" width="19.2" height="19.2" fill="#e2f6c0" stroke="#000" stroke-width="3.05" stroke-linejoin="round"/>
<rect x="1119.6" y="918.8" width="19.2" height="19.2" fill="#e2f6c0" stroke="#000" stroke-width="3.05" stroke-linejoin="round"/>
<rect x="1112.6" y="906.9" width="19.2" height="19.2" fill="#e2f6c0" stroke="#000" stroke-width="3.05" stroke-linejoin="round"/>
<rect x="1105.2" y="897.8" width="19.2" height="19.2" fill="#e2f6c0" stroke="#000" stroke-width="3.05" stroke-linejoin="round"/>
<rect x="1076.8" y="888.3" width="19.2" height="19.2" fill="#e2f6c0" stroke="#000" stroke-width="3.05" stroke-linejoin="round"/>
<rect x="1065.6" y="878" width="19.2" height="19.2" fill="#e2f6c0" stroke="#000" stroke-width="3.05" stroke-linejoin="round"/>
<rect x="1045.2" y="862.8" width="19.2" height="19.2" fill="#e2f6c0" stroke="#000" stroke-width="3.05" stroke-linejoin="round"/>
<rect x="1021.1" y="852.5" width="19.2" height="19.2" fill="#e2f6c0" stroke="#000" stroke-width="3.05" stroke-linejoin="round"/>
<path d="M968,812.3 L981.8,826.1 L968,839.9 L954.2,826.1Z" fill="#009200" stroke="#000" stroke-width="3.05" stroke-linejoin="miter"/>
<path d="M999.4,835.6 L1013.2,849.4 L999.4,863.2 L985.6,849.4Z" fill="#009200" stroke="#000" stroke-width="3.05" stroke-linejoin="miter"/>
<path d="M1030.6,850.5 L1044.4,864.3 L1030.6,878.1 L1016.8,864.3Z" fill="#009200" stroke="#000" stroke-width="3.05" stroke-linejoin="miter"/>
<path d="M1062.5,871.3 L1076.3,885.1 L1062.5,898.9 L1048.7,885.1Z" fill="#009200" stroke="#000" stroke-width="3.05" stroke-linejoin="miter"/>
<path d="M1094,886.6 L1107.8,900.4 L1094,914.2 L1080.2,900.4Z" fill="#009200" stroke="#000" stroke-width="3.05" stroke-linejoin="miter"/>
<path d="M1125.2,905.1 L1139,918.9 L1125.2,932.7 L1111.4,918.9Z" fill="#009200" stroke="#000" stroke-width="3.05" stroke-linejoin="miter"/>
<path d="M1156.7,926.4 L1170.5,940.2 L1156.7,954 L1142.9,940.2Z" fill="#009200" stroke="#000" stroke-width="3.05" stroke-linejoin="miter"/>
<path d="M1188.2,941.6 L1202,955.4 L1188.2,969.2 L1174.4,955.4Z" fill="#009200" stroke="#000" stroke-width="3.05" stroke-linejoin="miter"/>
</g>
<circle cx="1100.4" cy="717.5" r="11" fill="#e2f6c0" stroke="#000" stroke-width="3.05"/>
<rect x="1090.8" y="755.2" width="19.2" height="19.2" fill="#e2f6c0" stroke="#000" stroke-width="3.05" stroke-linejoin="round"/>
<path d="M1100.4,798.8 L1114.1,812.5 L1100.4,826.2 L1086.7,812.5Z" fill="#009200" stroke="#000" stroke-width="3.05" stroke-linejoin="miter"/>
<text transform="translate(100.8,351) scale(1,1.04)" font-size="48.3" font-family='"Liberation Sans", sans-serif' text-anchor="end">0</text>
<text transform="translate(100.8,287.8) scale(1,1.04)" font-size="48.3" font-family='"Liberation Sans", sans-serif' text-anchor="end">1</text>
<text transform="translate(100.8,224.6) scale(1,1.04)" font-size="48.3" font-family='"Liberation Sans", sans-serif' text-anchor="end">2</text>
<text transform="translate(100.8,161.4) scale(1,1.04)" font-size="48.3" font-family='"Liberation Sans", sans-serif' text-anchor="end">3</text>
<text transform="translate(100.8,98.2) scale(1,1.04)" font-size="48.3" font-family='"Liberation Sans", sans-serif' text-anchor="end">4</text>
<text transform="translate(100.8,35) scale(1,1.04)" font-size="48.3" font-family='"Liberation Sans", sans-serif' text-anchor="end">5</text>
<text transform="translate(100.8,671) scale(1,1.04)" font-size="48.3" font-family='"Liberation Sans", sans-serif' text-anchor="end">0</text>
<text transform="translate(100.8,591.86) scale(1,1.04)" font-size="48.3" font-family='"Liberation Sans", sans-serif' text-anchor="end">3</text>
<text transform="translate(100.8,512.72) scale(1,1.04)" font-size="48.3" font-family='"Liberation Sans", sans-serif' text-anchor="end">6</text>
<text transform="translate(100.8,433.58) scale(1,1.04)" font-size="48.3" font-family='"Liberation Sans", sans-serif' text-anchor="end">9</text>
<text transform="translate(100.8,989.1) scale(1,1.04)" font-size="48.3" font-family='"Liberation Sans", sans-serif' text-anchor="end">0</text>
<text transform="translate(100.8,921.15) scale(1,1.04)" font-size="48.3" font-family='"Liberation Sans", sans-serif' text-anchor="end">3</text>
<text transform="translate(100.8,853.2) scale(1,1.04)" font-size="48.3" font-family='"Liberation Sans", sans-serif' text-anchor="end">6</text>
<text transform="translate(100.8,785.25) scale(1,1.04)" font-size="48.3" font-family='"Liberation Sans", sans-serif' text-anchor="end">9</text>
<text transform="translate(100.8,717.3) scale(1,1.04)" font-size="48.3" font-family='"Liberation Sans", sans-serif' text-anchor="end">12</text>
<text transform="translate(117,1027.5) scale(1,1.04)" font-size="48.3" font-family='"Liberation Sans", sans-serif' text-anchor="middle">0</text>
<text transform="translate(246.1,1027.5) scale(1,1.04)" font-size="48.3" font-family='"Liberation Sans", sans-serif' text-anchor="middle">1</text>
<text transform="translate(375.2,1027.5) scale(1,1.04)" font-size="48.3" font-family='"Liberation Sans", sans-serif' text-anchor="middle">2</text>
<text transform="translate(504.3,1027.5) scale(1,1.04)" font-size="48.3" font-family='"Liberation Sans", sans-serif' text-anchor="middle">3</text>
<text transform="translate(633.4,1027.5) scale(1,1.04)" font-size="48.3" font-family='"Liberation Sans", sans-serif' text-anchor="middle">4</text>
<text transform="translate(685.2,1027.5) scale(1,1.04)" font-size="48.3" font-family='"Liberation Sans", sans-serif' text-anchor="middle">0.0</text>
<text transform="translate(788.36,1027.5) scale(1,1.04)" font-size="48.3" font-family='"Liberation Sans", sans-serif' text-anchor="middle">0.2</text>
<text transform="translate(891.52,1027.5) scale(1,1.04)" font-size="48.3" font-family='"Liberation Sans", sans-serif' text-anchor="middle">0.4</text>
<text transform="translate(994.68,1027.5) scale(1,1.04)" font-size="48.3" font-family='"Liberation Sans", sans-serif' text-anchor="middle">0.6</text>
<text transform="translate(1097.84,1027.5) scale(1,1.04)" font-size="48.3" font-family='"Liberation Sans", sans-serif' text-anchor="middle">0.8</text>
<text transform="translate(1201,1027.5) scale(1,1.04)" font-size="48.3" font-family='"Liberation Sans", sans-serif' text-anchor="middle">1.0</text>
<text transform="translate(1216.5,322.2) scale(1,1.04)" font-size="48.3" font-family='"Liberation Sans", sans-serif'>0.0</text>
<text transform="translate(1216.5,178.4) scale(1,1.04)" font-size="48.3" font-family='"Liberation Sans", sans-serif'>0.1</text>
<text transform="translate(1216.5,34.6) scale(1,1.04)" font-size="48.3" font-family='"Liberation Sans", sans-serif'>0.2</text>
<text transform="translate(1216.5,665) scale(1,1.04)" font-size="48.3" font-family='"Liberation Sans", sans-serif'>0.0</text>
<text transform="translate(1216.5,563.12) scale(1,1.04)" font-size="48.3" font-family='"Liberation Sans", sans-serif'>0.4</text>
<text transform="translate(1216.5,461.24) scale(1,1.04)" font-size="48.3" font-family='"Liberation Sans", sans-serif'>0.8</text>
<text transform="translate(1216.5,359.36) scale(1,1.04)" font-size="48.3" font-family='"Liberation Sans", sans-serif'>1.2</text>
<text transform="translate(1225.5,978.5) scale(1,1.04)" font-size="48.3" font-family='"Liberation Sans", sans-serif'>0.0</text>
<text transform="translate(1225.5,876.14) scale(1,1.04)" font-size="48.3" font-family='"Liberation Sans", sans-serif'>0.2</text>
<text transform="translate(1225.5,773.78) scale(1,1.04)" font-size="48.3" font-family='"Liberation Sans", sans-serif'>0.4</text>
<text transform="translate(312.5,74) scale(1,1.04)" font-size="43.4" font-family='"Liberation Sans", sans-serif'>LaNiSi</text>
<text transform="translate(312.5,391.5) scale(1,1.04)" font-size="43.4" font-family='"Liberation Sans", sans-serif'>LaPtSi</text>
<text transform="translate(312.5,706) scale(1,1.04)" font-size="43.4" font-family='"Liberation Sans", sans-serif'>LaPtGe</text>
<text transform="translate(877.5,74) scale(1,1.04)" font-size="43.4" font-family='"Liberation Sans", sans-serif'>LaNiSi</text>
<text transform="translate(877.5,391.5) scale(1,1.04)" font-size="43.4" font-family='"Liberation Sans", sans-serif'>LaPtSi</text>
<text transform="translate(877.5,706) scale(1,1.04)" font-size="43.4" font-family='"Liberation Sans", sans-serif'>LaPtGe</text>
<text transform="translate(138.3,321) scale(1,1.04)" font-size="48.5" font-family='"Liberation Sans", sans-serif' font-weight="bold">a</text>
<text transform="translate(138.3,644.5) scale(1,1.04)" font-size="48.5" font-family='"Liberation Sans", sans-serif' font-weight="bold">b</text>
<text transform="translate(138.3,955.2) scale(1,1.04)" font-size="48.5" font-family='"Liberation Sans", sans-serif' font-weight="bold">c</text>
<text transform="translate(707.8,320.3) scale(1,1.04)" font-size="48.5" font-family='"Liberation Sans", sans-serif' font-weight="bold">d</text>
<text transform="translate(707.8,644.3) scale(1,1.04)" font-size="48.5" font-family='"Liberation Sans", sans-serif' font-weight="bold">e</text>
<text transform="translate(707.8,955) scale(1,1.04)" font-size="48.5" font-family='"Liberation Sans", sans-serif' font-weight="bold">f</text>
<text transform="translate(1137.5,96) scale(1,1.04)" font-size="33" font-family='"Liberation Sans", sans-serif' font-style="italic">C</text>
<text transform="translate(1135.7,418.8) scale(1,1.04)" font-size="33" font-family='"Liberation Sans", sans-serif'><tspan font-style="italic">C</tspan><tspan font-size="22.5" dy="8.8">S1</tspan></text>
<text transform="translate(1135.7,466.5) scale(1,1.04)" font-size="33" font-family='"Liberation Sans", sans-serif'><tspan font-style="italic">C</tspan><tspan font-size="22.5" dy="8.8">S2</tspan></text>
<text transform="translate(1135.3,514) scale(1,1.04)" font-size="33" font-family='"Liberation Sans", sans-serif'><tspan font-style="italic">M</tspan><tspan font-size="22.5" dy="8.8">S2</tspan></text>
<text transform="translate(1136,563.8) scale(1,1.04)" font-size="27.5" font-family='"Liberation Sans", sans-serif'>ρ<tspan font-size="22" dy="8.4">ref</tspan></text>
<text transform="translate(1136.7,729.3) scale(1,1.04)" font-size="33" font-family='"Liberation Sans", sans-serif'><tspan font-style="italic">C</tspan><tspan font-size="22.5" dy="8.8">S1</tspan></text>
<text transform="translate(1136.7,776.7) scale(1,1.04)" font-size="33" font-family='"Liberation Sans", sans-serif'><tspan font-style="italic">C</tspan><tspan font-size="22.5" dy="8.8">S2</tspan></text>
<text transform="translate(1137.5,824.4) scale(1,1.04)" font-size="33" font-family='"Liberation Sans", sans-serif'><tspan font-style="italic">M</tspan><tspan font-size="22.5" dy="8.8">S1</tspan></text>
<text transform="translate(325.1,1078.5) scale(1,1.04)" font-size="59" font-family='"Liberation Sans", sans-serif'><tspan font-style="italic">T</tspan><tspan dx="-2.8"> (K</tspan><tspan dx="3">)</tspan></text>
<text transform="translate(872.9,1077.5) scale(1,1.04)" font-size="59" font-family='"Liberation Sans", sans-serif'><tspan font-style="italic">T</tspan>/<tspan font-style="italic">T</tspan><tspan font-size="41" dy="15.4">c</tspan><tspan dx="-3" dy="-15.4">(</tspan><tspan dx="1.4">0</tspan><tspan dx="2">)</tspan></text>
<text transform="translate(43,636) rotate(-90) scale(1,1.04)" font-size="59" font-family='"Liberation Sans", sans-serif'><tspan font-family='"Liberation Serif", serif'>μ</tspan><tspan font-family='"Liberation Serif", serif' font-size="41" dx="0.8" dy="15.5">0</tspan><tspan font-style="italic" dx="0.8" dy="-15.5">H</tspan><tspan font-size="41" dx="-1.6" dy="15.5">c1</tspan><tspan dx="-1.2" dy="-15.5"> (mT)</tspan></text>
<text transform="translate(1334,623) rotate(-90) scale(1,1.04)" font-size="59" font-family='"Liberation Sans", sans-serif'><tspan font-family='"Liberation Serif", serif'>μ</tspan><tspan font-family='"Liberation Serif", serif' font-size="41" dx="0.8" dy="15.5">0</tspan><tspan font-style="italic" dx="0.8" dy="-15.5">H</tspan><tspan font-size="41" dx="-1.6" dy="15.5">c2</tspan><tspan dx="-1.2" dy="-15.5"> (T)</tspan></text>
</svg></body></html>
